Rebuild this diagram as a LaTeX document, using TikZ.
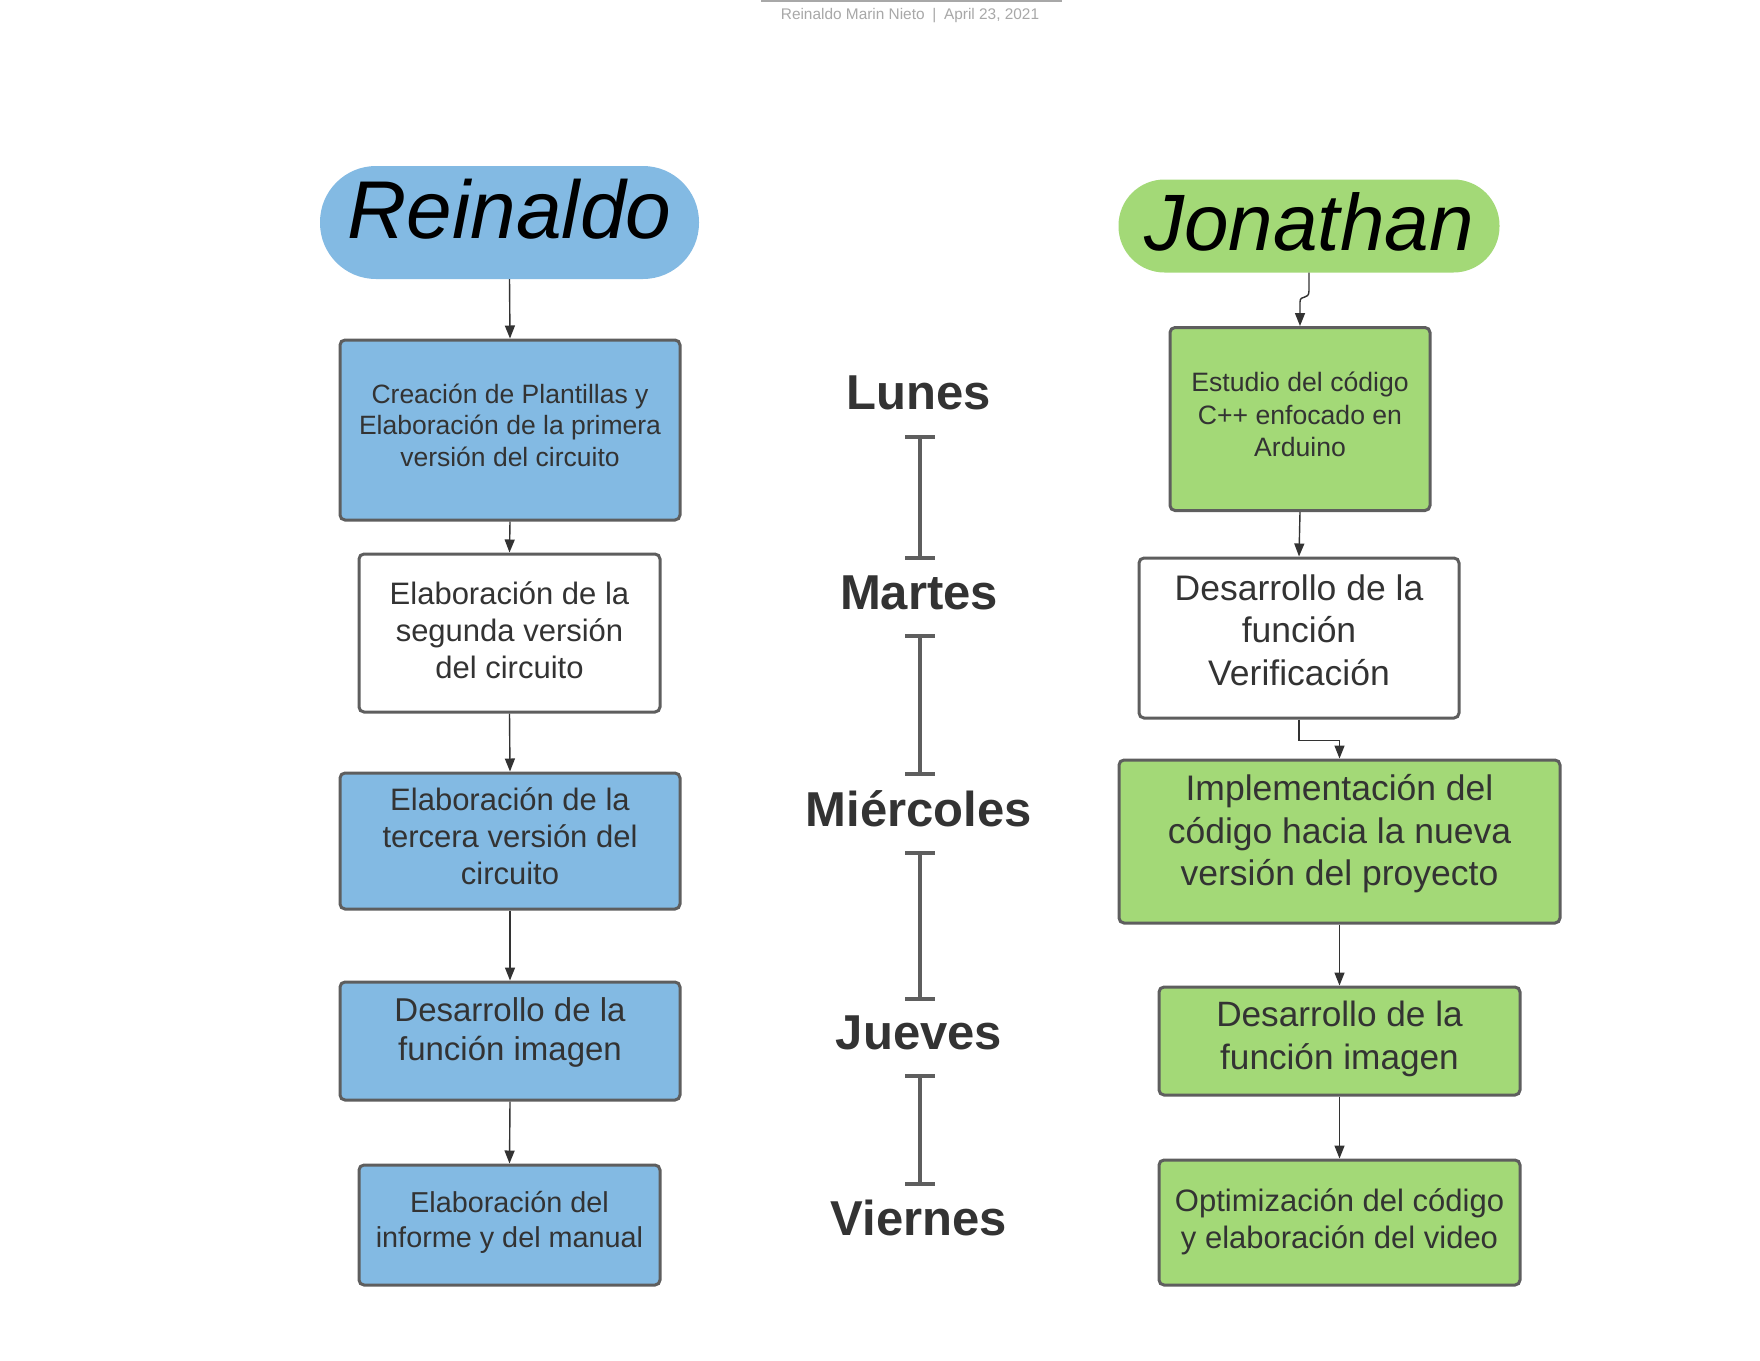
\documentclass[tikz,border=0pt]{standalone}
\usepackage{fontspec}
\setmainfont{Liberation Sans}
\usetikzlibrary{arrows.meta,positioning}
\definecolor{lblue}{HTML}{83BAE3}
\definecolor{lgreen}{HTML}{A3D977}
\definecolor{bord}{HTML}{5E5E5E}
\definecolor{txt}{HTML}{333333}
\definecolor{hdr}{HTML}{A8A8A8}
\tikzset{
  box/.style={draw=bord, line width=3pt, rounded corners=5pt, inner sep=0pt},
  bluebox/.style={box, fill=lblue},
  greenbox/.style={box, fill=lgreen},
  whitebox/.style={box, fill=white},
  boxtext/.style={align=center, text=txt, inner sep=0pt},
  namepill/.style={inner sep=0pt},
  nametext/.style={inner sep=0pt, text=black},
  day/.style={text=txt, font=\fontsize{49}{54}\selectfont\bfseries},
  arr/.style={draw=txt, line width=1.4pt, -{Triangle[length=13pt,width=10pt]}},
  ibeam/.style={draw=bord, line width=4pt},
}
\begin{document}
\begin{tikzpicture}[x=1pt,y=-1pt]
\useasboundingbox[fill=white] (0,0) rectangle (1760,1360);
% header
\draw[hdr, line width=1.2pt] (761,1) -- (1062,1);
\node[text=hdr, font=\fontsize{15.4}{17}\selectfont] (hdr) at (910,16) {Reinaldo Marin Nieto\enspace|\enspace April 23, 2021};

% Reinaldo column
\node[namepill, fill=lblue, minimum width=379pt, minimum height=113pt, rounded corners=56pt] (rei) at (509.5,222.5) {};
\node[nametext, font=\fontsize{82}{86}\selectfont\itshape] (reit) at ([yshift=13pt]rei.center) {Reinaldo};

\node[bluebox, minimum width=340pt, minimum height=180pt] (r1) at (510,430) {};
\node[boxtext, font=\fontsize{26.5}{31.5}\selectfont] (r1t) at ([yshift=5pt]r1.center) {Creación de Plantillas y\\Elaboración de la primera\\versión del circuito};
\node[whitebox, minimum width=301pt, minimum height=158pt] (r2) at (509.5,633) {};
\node[boxtext, font=\fontsize{31}{37}\selectfont] (r2t) at ([yshift=2.5pt]r2.center) {Elaboración de la\\segunda versión\\del circuito};
\node[bluebox, minimum width=340pt, minimum height=136pt] (r3) at (510,841) {};
\node[boxtext, font=\fontsize{31}{37}\selectfont] (r3t) at ([yshift=5pt]r3.center) {Elaboración de la\\tercera versión del\\circuito};
\node[bluebox, minimum width=340pt, minimum height=118pt] (r4) at (510,1041) {};
\node[boxtext, font=\fontsize{33}{39}\selectfont] (r4t) at ([yshift=9pt]r4.center) {Desarrollo de la\\función imagen};
\node[bluebox, minimum width=301pt, minimum height=120pt] (r5) at (509.5,1225) {};
\node[boxtext, font=\fontsize{28.8}{35}\selectfont] (r5t) at ([yshift=2.5pt]r5.center) {Elaboración del\\informe y del manual};

\draw[arr] (rei.south) -- (r1.north);
\draw[arr] (r1.south) -- (r2.north);
\draw[arr] (r2.south) -- (r3.north);
\draw[arr] (r3.south) -- (r4.north);
\draw[arr] (r4.south) -- (r5.north);

% Jonathan column
\node[namepill, fill=lgreen, minimum width=381pt, minimum height=93pt, rounded corners=46pt] (jon) at (1309,226) {};
\node[nametext, font=\fontsize{80}{84}\selectfont\itshape] (jont) at ([yshift=4pt]jon.center) {Jonathan};

\node[greenbox, minimum width=260pt, minimum height=183pt] (j1) at (1300,419) {};
\node[boxtext, font=\fontsize{26.6}{32.5}\selectfont] (j1t) at ([yshift=4.5pt]j1.center) {Estudio del código\\C++ enfocado en\\Arduino};
\node[whitebox, minimum width=320pt, minimum height=160pt] (j2) at (1299,638) {};
\node[boxtext, font=\fontsize{35.5}{42.5}\selectfont] (j2t) at ([yshift=8pt]j2.center) {Desarrollo de la\\función\\Verificación};
\node[greenbox, minimum width=441pt, minimum height=163pt] (j3) at (1339.5,841.5) {};
\node[boxtext, font=\fontsize{35.5}{42.5}\selectfont] (j3t) at ([yshift=7.5pt]j3.center) {Implementación del\\código hacia la nueva\\versión del proyecto};
\node[greenbox, minimum width=361pt, minimum height=108pt] (j4) at (1339.5,1041) {};
\node[boxtext, font=\fontsize{35.2}{43}\selectfont] (j4t) at ([yshift=2.5pt]j4.center) {Desarrollo de la\\función imagen};
\node[greenbox, minimum width=361pt, minimum height=125pt] (j5) at (1339.5,1222.5) {};
\node[boxtext, font=\fontsize{31}{37}\selectfont] (j5t) at ([yshift=0.5pt]j5.center) {Optimización del código\\y elaboración del video};

\draw[arr] (jon.south) -- ++(0,18) .. controls +(0,10) and +(0,-8) .. ([yshift=24pt]j1.north) -- (j1.north);
\draw[arr] (j1.south) -- (j2.north);
\draw[arr] (j2.south) -- ++(0,21) -| (j3.north);
\draw[arr] (j3.south) -- (j4.north);
\draw[arr] (j4.south) -- (j5.north);

% days
\node[day] (lun) at (919,393) {Lunes};
\node[day] (mar) at (919,593) {Martes};
\node[day] (mie) at (919,809) {Miércoles};
\node[day] (jue) at (919,1033) {Jueves};
\node[day] (vie) at (919,1218) {Viernes};

\coordinate (b1t) at (920,437); \coordinate (b1b) at (920,558);
\coordinate (b2t) at (920,636); \coordinate (b2b) at (920,774);
\coordinate (b3t) at (920,853); \coordinate (b3b) at (920,999);
\coordinate (b4t) at (920,1076); \coordinate (b4b) at (920,1184);
\foreach \t/\b in {b1t/b1b,b2t/b2b,b3t/b3b,b4t/b4b}{
  \draw[ibeam] (\t) -- (\b);
  \draw[ibeam] ([xshift=-15pt]\t) -- ([xshift=15pt]\t);
  \draw[ibeam] ([xshift=-15pt]\b) -- ([xshift=15pt]\b);
}
\end{tikzpicture}
\end{document}
